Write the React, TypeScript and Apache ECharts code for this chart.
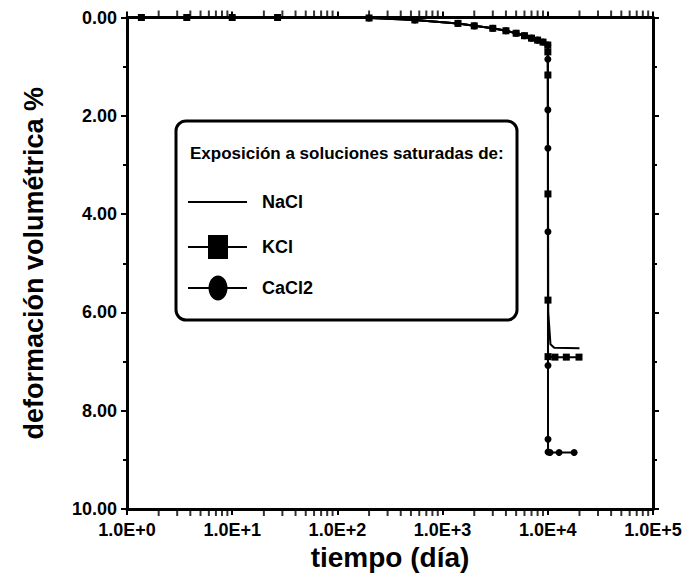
import React, { useEffect, useRef } from "react";
import * as echarts from "echarts";

const seriesNames = ["NaCl", "KCl", "CaCl2"];
const legendTitle = "Exposición a soluciones saturadas de:";
const xAxisTitle = "tiempo (día)";
const yAxisTitle = "deformación volumétrica %";

const xMin = 1;
const xMax = 100000;
const yMin = 0;
const yMax = 10;
const yStep = 2;
const xMinorTicks = [
  2, 3, 4, 5, 6, 7, 8, 9,
  20, 30, 40, 50, 60, 70, 80, 90,
  200, 300, 400, 500, 600, 700, 800, 900,
  2000, 3000, 4000, 5000, 6000, 7000, 8000, 9000,
  20000, 30000, 40000, 50000, 60000, 70000, 80000, 90000,
];

const naclTime = [1, 10, 100, 300, 545, 1400, 2000, 3000, 4000, 5000, 6000, 7000, 8000, 9000, 10000, 10100, 10600, 11500, 20000];
const naclValue = [0, 0, 0, 0.01, 0.05, 0.12, 0.17, 0.22, 0.27, 0.32, 0.37, 0.42, 0.46, 0.5, 0.56, 6.0, 6.65, 6.72, 6.73];

const kclTime = [1.37, 3.7, 10, 27, 200, 545, 1400, 2000, 3000, 4000, 5000, 6000, 7000, 8000, 9000, 10000, 10010, 10020, 10030, 10040, 10050, 11700, 15000, 19800];
const kclValue = [0, 0, 0, 0, 0.01, 0.05, 0.12, 0.17, 0.22, 0.27, 0.32, 0.37, 0.42, 0.46, 0.5, 0.56, 0.7, 1.17, 3.59, 5.75, 6.9, 6.91, 6.91, 6.91];

const cacl2Time = [1.37, 3.7, 10, 27, 200, 545, 1400, 2000, 3000, 4000, 5000, 6000, 7000, 8000, 9000, 10000, 10008, 10016, 10024, 10032, 10040, 10048, 10056, 10500, 12800, 17800];
const cacl2Value = [0, 0, 0, 0, 0.01, 0.05, 0.12, 0.17, 0.22, 0.27, 0.32, 0.37, 0.42, 0.46, 0.5, 0.56, 0.85, 1.88, 2.66, 4.36, 7.08, 8.58, 8.84, 8.85, 8.85, 8.85];

const FONT = "Liberation Sans, Arial, sans-serif";

const zip = (t: number[], v: number[]) => t.map((x, i) => [x, v[i]]);

export default function App() {
  const ref = useRef<HTMLDivElement>(null);
  useEffect(() => {
    if (!ref.current) return;
    const chart = echarts.init(ref.current, null, { renderer: "svg" });
    const axisLineStyle = { color: "#000", width: 3 };
    const gridRect = { left: 127, right: 33, top: 17.5, bottom: 72, containLabel: false };
    const yAxisBase = {
      type: "value",
      gridIndex: 0,
      inverse: true,
      min: yMin,
      max: yMax,
      interval: yStep,
      splitLine: { show: false },
      axisLine: { show: true, onZero: false, lineStyle: axisLineStyle },
      axisTick: { show: true, inside: false, length: 6, lineStyle: { color: "#000", width: 2 } },
      minorTick: { show: true, splitNumber: 2, length: 4, lineStyle: { color: "#000", width: 2 } },
      minorSplitLine: { show: false },
    };
    const xAxisBase = {
      type: "log",
      gridIndex: 0,
      min: xMin,
      max: xMax,
      interval: 1,
      splitLine: { show: false },
      axisLine: { show: true, onZero: false, lineStyle: axisLineStyle },
      axisTick: { show: true, inside: false, length: 6, lineStyle: { color: "#000", width: 2 } },
    };
    const lineW = 2;
    const minorTickSeries = (yVal: number, dir: number) => ({
      type: "scatter",
      xAxisIndex: 2,
      yAxisIndex: 2,
      clip: false,
      symbol: "rect",
      symbolSize: [2, 7],
      symbolOffset: [0, dir * 3.5],
      itemStyle: { color: "#000" },
      z: 10,
      data: xMinorTicks.map((v) => [v, yVal]),
    });
    chart.setOption({
      animation: false,
      grid: [gridRect, { ...gridRect }],
      xAxis: [
        {
          ...xAxisBase,
          position: "bottom",
          name: xAxisTitle,
          nameLocation: "middle",
          nameGap: 31,
          nameTextStyle: { fontFamily: FONT, fontWeight: "bold", fontSize: 28, color: "#000" },
          axisLabel: {
            margin: 12,
            fontFamily: FONT,
            fontWeight: "bold",
            fontSize: 18,
            color: "#000",
            formatter: (v: number) => "1.0E+" + Math.round(Math.log10(v)),
          },
        },
        { ...xAxisBase, position: "top", axisLabel: { show: false } },
        { type: "log", gridIndex: 1, min: xMin, max: xMax, interval: 1, show: false },
      ],
      yAxis: [
        {
          ...yAxisBase,
          position: "left",
          name: yAxisTitle,
          nameLocation: "middle",
          nameRotate: 90,
          nameGap: 80,
          nameTextStyle: { fontFamily: FONT, fontWeight: "bold", fontSize: 27, color: "#000" },
          axisLabel: {
            margin: 10,
            fontFamily: FONT,
            fontWeight: "bold",
            fontSize: 18,
            color: "#000",
            formatter: (v: number) => v.toFixed(2),
          },
        },
        { ...yAxisBase, position: "right", axisLabel: { show: false } },
        { type: "value", gridIndex: 1, inverse: true, min: yMin, max: yMax, interval: yStep, show: false },
      ],
      series: [
        {
          type: "line",
          name: seriesNames[0],
          data: zip(naclTime, naclValue),
          showSymbol: false,
          symbol: "none",
          lineStyle: { color: "#000", width: lineW },
          itemStyle: { color: "#000" },
          z: 3,
        },
        {
          type: "line",
          name: seriesNames[2],
          data: zip(cacl2Time, cacl2Value),
          symbol: "circle",
          symbolSize: 7,
          lineStyle: { color: "#000", width: lineW },
          itemStyle: { color: "#000" },
          z: 4,
        },
        {
          type: "line",
          name: seriesNames[1],
          data: zip(kclTime, kclValue),
          symbol: "rect",
          symbolSize: 7,
          lineStyle: { color: "#000", width: lineW },
          itemStyle: { color: "#000" },
          z: 5,
        },
        minorTickSeries(yMin, -1),
        minorTickSeries(yMax, 1),
      ],
      graphic: [
        {
          type: "group",
          z: 100,
          children: [
            {
              type: "rect",
              shape: { x: 176, y: 121, width: 341, height: 199, r: 10 },
              style: { fill: "#fff", stroke: "#000", lineWidth: 3 },
            },
            {
              type: "text",
              x: 190,
              y: 153,
              style: { text: legendTitle, fontFamily: FONT, fontWeight: "bold", fontSize: 17, fill: "#000", verticalAlign: "middle" },
            },
            { type: "line", shape: { x1: 188, y1: 202, x2: 247, y2: 202 }, style: { stroke: "#000", lineWidth: 2 } },
            { type: "line", shape: { x1: 188, y1: 247, x2: 247, y2: 247 }, style: { stroke: "#000", lineWidth: 2 } },
            { type: "rect", shape: { x: 208, y: 235, width: 20, height: 24 }, style: { fill: "#000" } },
            { type: "line", shape: { x1: 188, y1: 288, x2: 247, y2: 288 }, style: { stroke: "#000", lineWidth: 2 } },
            { type: "ellipse", shape: { cx: 218, cy: 288, rx: 9.5, ry: 12.5 }, style: { fill: "#000" } },
            {
              type: "text",
              x: 262,
              y: 202,
              style: { text: seriesNames[0], fontFamily: FONT, fontWeight: "bold", fontSize: 18, fill: "#000", verticalAlign: "middle" },
            },
            {
              type: "text",
              x: 262,
              y: 247,
              style: { text: seriesNames[1], fontFamily: FONT, fontWeight: "bold", fontSize: 18, fill: "#000", verticalAlign: "middle" },
            },
            {
              type: "text",
              x: 262,
              y: 288,
              style: { text: seriesNames[2], fontFamily: FONT, fontWeight: "bold", fontSize: 18, fill: "#000", verticalAlign: "middle" },
            },
          ],
        },
      ],
    });
    return () => chart.dispose();
  }, []);
  return <div ref={ref} style={{ width: 686, height: 581, position: "absolute", left: 0, top: 0, background: "#fff" }} />;
}
